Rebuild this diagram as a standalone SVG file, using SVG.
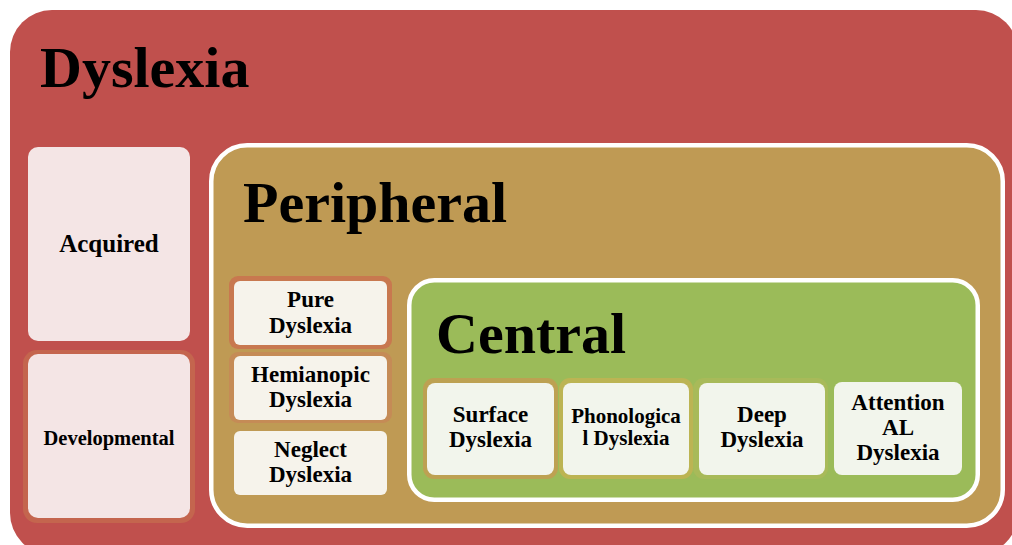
<svg xmlns="http://www.w3.org/2000/svg" width="1012" height="545" viewBox="0 0 1012 545">
<style>
text{font-family:"Liberation Serif","Times New Roman",serif;font-weight:bold;fill:#000;text-anchor:middle}
.title{font-size:58px;text-anchor:start}
.lbl{font-size:23px}
.pink{fill:#F4E5E5}
.cream{fill:#F6F3EB}
.mint{fill:#F2F5EC}
.frame{stroke:#FFFFFF;stroke-width:4.5}
</style>
<g id="dyslexia">
<rect x="10" y="10" width="1008" height="545" rx="42" fill="#C0504D"/>
<text class="title" x="40" y="87">Dyslexia</text>
</g>
<g id="acquired">
<rect class="pink" x="28" y="147" width="162" height="194" rx="10"/>
<text x="109" y="252" style="font-size:25px">Acquired</text>
</g>
<g id="developmental">
<rect x="23" y="350" width="172" height="173" rx="14" fill="#C4654E"/>
<rect class="pink" x="28" y="354" width="162" height="164" rx="10"/>
<text x="109" y="445" style="font-size:20.5px">Developmental</text>
</g>
<g id="peripheral">
<rect class="frame" x="211.25" y="145.25" width="791.5" height="380.5" rx="36" fill="#BF9A54"/>
<text class="title" x="243" y="222">Peripheral</text>
</g>
<g id="pure">
<rect x="229" y="276" width="163" height="73" rx="9" fill="#C8784F"/>
<rect class="cream" x="234" y="281" width="153" height="64" rx="6"/>
<text class="lbl" x="310.5" y="307">Pure</text>
<text class="lbl" x="310.5" y="333">Dyslexia</text>
</g>
<g id="hemianopic">
<rect x="229" y="352" width="163" height="71" rx="9" fill="#C58B56"/>
<rect class="cream" x="234" y="356" width="153" height="64" rx="6"/>
<text class="lbl" x="310.5" y="382">Hemianopic</text>
<text class="lbl" x="310.5" y="407">Dyslexia</text>
</g>
<g id="neglect">
<rect class="cream" x="234" y="431" width="153" height="64" rx="6"/>
<text class="lbl" x="310.5" y="457">Neglect</text>
<text class="lbl" x="310.5" y="482">Dyslexia</text>
</g>
<g id="central">
<rect class="frame" x="409.25" y="280.25" width="568.5" height="219.5" rx="25" fill="#9BBB59"/>
<text class="title" x="436" y="353">Central</text>
</g>
<g id="surface">
<rect x="423" y="378" width="135" height="101" rx="11" fill="#BDA152"/>
<rect class="mint" x="427" y="383" width="127" height="92" rx="8"/>
<text class="lbl" x="490.5" y="422">Surface</text>
<text class="lbl" x="490.5" y="447">Dyslexia</text>
</g>
<g id="phonological">
<rect x="559" y="378" width="134" height="101" rx="11" fill="#BCB453"/>
<rect class="mint" x="563" y="383" width="126" height="92" rx="8"/>
<text x="626" y="423" style="font-size:21px">Phonologica</text>
<text x="626" y="445" style="font-size:21px">l Dyslexia</text>
</g>
<g id="deep">
<rect x="693" y="378" width="135" height="101" rx="11" fill="#A8BA59"/>
<rect class="mint" x="699" y="383" width="126" height="92" rx="8"/>
<text class="lbl" x="762" y="422">Deep</text>
<text class="lbl" x="762" y="447">Dyslexia</text>
</g>
<g id="attention">
<rect class="mint" x="834" y="382" width="128" height="93" rx="8"/>
<text class="lbl" x="898" y="410">Attention</text>
<text class="lbl" x="898" y="435">AL</text>
<text class="lbl" x="898" y="460">Dyslexia</text>
</g>
<g id="connectors"/>
</svg>
